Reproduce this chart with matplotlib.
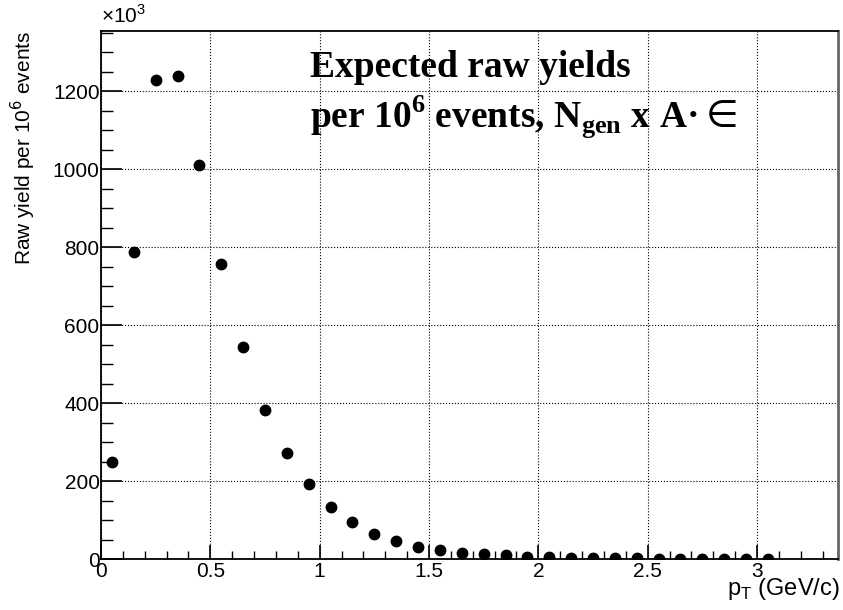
import matplotlib
matplotlib.use('Agg')
import matplotlib.pyplot as plt
from matplotlib.ticker import MultipleLocator
import numpy as np

# bin centres (GeV/c) and raw yields (x10^3)
pt = [0.05, 0.15, 0.25, 0.35, 0.45, 0.55, 0.65, 0.75, 0.85, 0.95,
      1.05, 1.15, 1.25, 1.35, 1.45, 1.55, 1.65, 1.75, 1.85, 1.95,
      2.05, 2.15, 2.25, 2.35, 2.45, 2.55, 2.65, 2.75, 2.85, 2.95, 3.05]
raw_yield = [248, 788, 1228, 1240, 1010, 757, 545, 383, 272, 192,
             133, 94, 65, 47, 32, 24, 15, 13, 9, 6,
             4, 3, 2, 2, 1.5, 1.2, 1, 0.8, 0.7, 0.6, 0.5]

plt.rcParams['font.family'] = ['Liberation Sans', 'DejaVu Sans']

fig = plt.figure(figsize=(8.43, 6.10), dpi=100)
ax = fig.add_axes([0.1198, 0.0836, 0.8742, 0.8656])

ax.plot(pt, raw_yield, 'o', color='black', markersize=7.5)

ax.set_xlim(0, 3.37)
ax.set_ylim(0, 1355)

ax.xaxis.set_minor_locator(MultipleLocator(0.1))
ax.yaxis.set_major_locator(MultipleLocator(200))
ax.yaxis.set_minor_locator(MultipleLocator(50))
ax.set_xticks(np.arange(0, 3.01, 0.5))
ax.set_xticklabels(['0', '0.5', '1', '1.5', '2', '2.5', '3'])

ax.tick_params(which='both', direction='in', top=False, right=False, labelsize=15)
ax.tick_params(axis='x', which='major', length=10, width=1.2, pad=2)
ax.tick_params(axis='x', which='minor', length=6, width=1.0)
ax.tick_params(axis='y', which='major', length=15, width=1.2, pad=1)
ax.tick_params(axis='y', which='minor', length=8.5, width=1.0)

ax.grid(True, which='major', linestyle=':', color='black', linewidth=0.8)

for s in ['left', 'bottom', 'top']:
    ax.spines[s].set_linewidth(1.3)
ax.spines['right'].set_color('#666666')
ax.spines['right'].set_linewidth(2)

ax.set_ylabel('Raw yield per 10$^6$ events', fontsize=15, loc='top')
ax.yaxis.set_label_coords(-0.0855, 1.0)
ax.set_xlabel('p$_{\\mathregular{T}}$ (GeV/c)', fontsize=17, loc='right')
ax.xaxis.label.set_va('baseline')
ax.xaxis.set_label_coords(1.003, -0.068)

ax.text(0.0, 1.008, '\u00d710$^{\\mathregular{3}}$', transform=ax.transAxes,
        fontsize=15, ha='left', va='bottom')

serif = ['Liberation Serif', 'DejaVu Serif']
ax.text(0.2836, 0.913, 'Expected raw yields', transform=ax.transAxes,
        fontsize=27, fontweight='bold', family=serif, ha='left', va='baseline')
ax.text(0.2836, 0.818,
        'per 10$^{\\mathregular{6}}$ events, N$_{\\mathregular{gen}}$ x A\u00b7$\\in$',
        transform=ax.transAxes, fontsize=27, fontweight='bold',
        family=serif, ha='left', va='baseline')

fig.savefig('out.png', dpi=100)
